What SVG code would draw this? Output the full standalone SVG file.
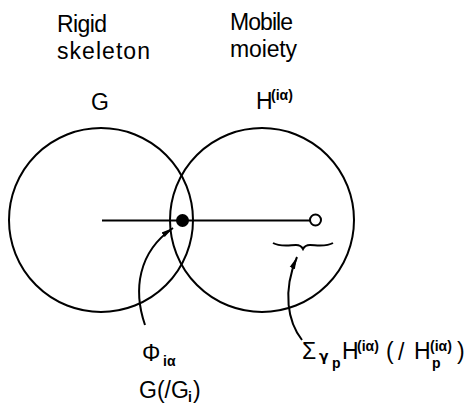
<svg xmlns="http://www.w3.org/2000/svg" width="469" height="406" viewBox="0 0 469 406">
<defs>
<style>
.ln{fill:none;stroke:#000;stroke-width:2}
.t{font-family:"Liberation Sans","DejaVu Sans",sans-serif;font-size:23px;fill:#000}
.s{font-family:"Liberation Sans","DejaVu Sans",sans-serif;font-size:14px;font-weight:bold;fill:#000}
</style>
<marker id="ah" markerUnits="userSpaceOnUse" markerWidth="14" markerHeight="8" refX="12" refY="4" orient="auto">
<path d="M0,1.2 L12,4 L0,6.8 Z" fill="#000"/>
</marker>
</defs>
<rect width="469" height="406" fill="#fff"/>

<g id="label-rigid">
<text class="t" x="57" y="32" textLength="50">Rigid</text>
<text class="t" x="57" y="59" textLength="93">skeleton</text>
</g>
<g id="label-mobile">
<text class="t" x="230" y="30" textLength="63">Mobile</text>
<text class="t" x="230" y="57" textLength="67">moiety</text>
</g>

<g id="node-G">
<circle class="ln" cx="101" cy="220" r="92"/>
<text class="t" x="91" y="110">G</text>
</g>
<g id="node-H">
<circle class="ln" cx="262" cy="220" r="92"/>
<text class="t" x="256" y="109">H</text>
<text class="s" x="271" y="100" font-size="15">(iα)</text>
</g>

<g id="connectors">
<line class="ln" x1="102" y1="220.5" x2="310" y2="220.5"/>
<path class="ln" d="M145,325 C133,290 138,252 173,228" stroke-width="1.8" marker-end="url(#ah)"/>
<path class="ln" d="M302,340 C288,322 282,292 297,257" stroke-width="1.8" marker-end="url(#ah)"/>
</g>

<g id="node-phi">
<circle cx="182.5" cy="220.5" r="6.5" fill="#000"/>
</g>
<g id="node-end">
<circle cx="315.5" cy="220" r="5.5" fill="#fff" stroke="#000" stroke-width="2"/>
</g>
<g id="brace">
<path class="ln" stroke-width="2.6" d="M273,243 C280,247 290,245 296,245 C300,245 302,247 303,249 C304,247 306,245 310,245 C316,245 326,247 333,243"/>
</g>

<g id="label-phi">
<text class="t" x="142" y="361" font-size="26">Φ</text>
<text class="s" x="163" y="366">iα</text>
<text class="t" x="139" y="398">G(/G</text>
<text class="s" x="188" y="402" font-size="12">i</text>
<text class="t" x="193" y="398">)</text>
</g>

<g id="label-sum">
<text class="t" x="302" y="359">Σ</text>
<text class="s" x="319" y="361" font-size="17" style="font-family:'DejaVu Sans',sans-serif">γ</text>
<text class="s" x="332" y="368">p</text>
<text class="t" x="342" y="359">H</text>
<text class="s" x="357" y="351" font-size="15">(iα)</text>
<text class="t" x="386" y="359">(</text>
<text class="t" x="398" y="360" font-size="27">/</text>
<text class="t" x="414" y="359">H</text>
<text class="s" x="430" y="351" font-size="15">(iα)</text>
<text class="s" x="432" y="368">p</text>
<text class="t" x="457" y="359">)</text>
</g>
</svg>
